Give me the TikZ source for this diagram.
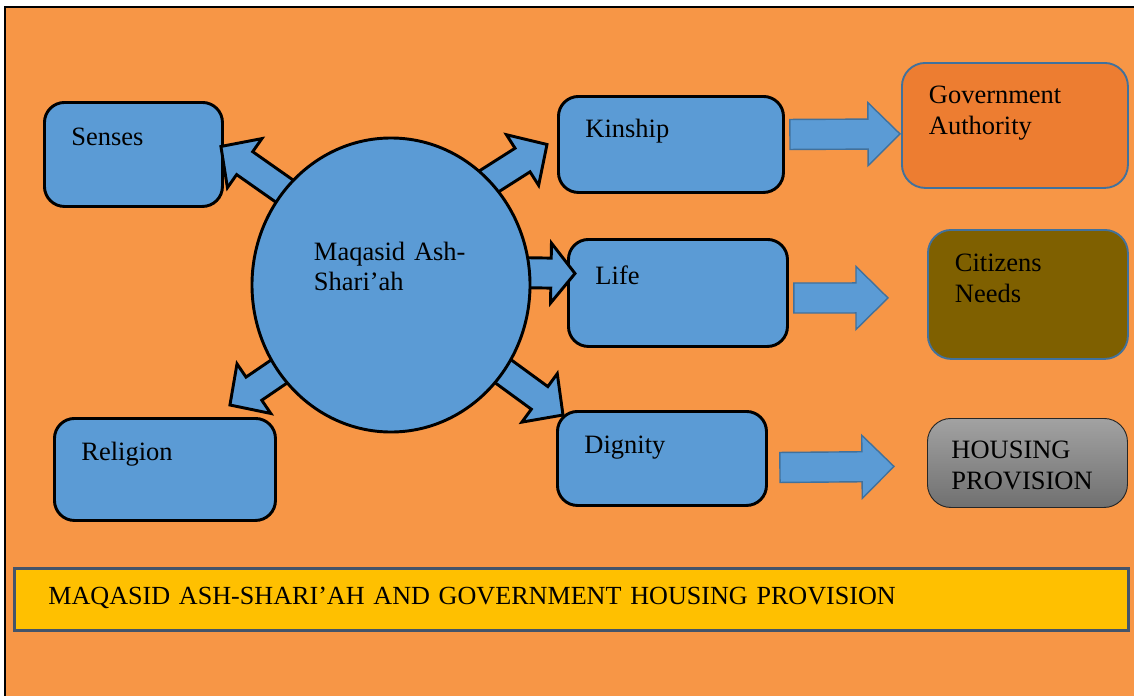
\documentclass[tikz,border=0pt]{standalone}
\usepackage{fontspec}
\setmainfont{Liberation Serif}
\usetikzlibrary{calc,shapes.geometric}

\definecolor{framebg}{HTML}{F79646}
\definecolor{boxblue}{HTML}{5B9BD5}
\definecolor{edgeblue}{HTML}{41719C}
\definecolor{govorange}{HTML}{ED7D31}
\definecolor{needsbrown}{HTML}{7F6000}
\definecolor{bannergold}{HTML}{FFC000}
\definecolor{bannerline}{HTML}{44546A}
\definecolor{greytop}{HTML}{A2A2A2}
\definecolor{greybottom}{HTML}{707070}

% block arrow: style, tail, tip, shaft half width, head half width, head length
\newcommand{\fatarrow}[6]{%
    \coordinate (fa-base) at ($(#3)!#6!(#2)$);
    \draw[#1] ($(#2)!#4!90:(#3)$) -- ($(fa-base)!#4!-90:(#2)$)
        -- ($(fa-base)!#5!-90:(#2)$) -- (#3)
        -- ($(fa-base)!#5!90:(#2)$) -- ($(fa-base)!#4!90:(#2)$)
        -- ($(#2)!#4!-90:(#3)$) -- cycle;
}

\tikzset{
    every node/.style={font=\fontsize{22.6pt}{26.4pt}\selectfont},
    goal/.style={draw=black, line width=2.5pt, fill=boxblue, rounded corners=0.6cm,
        anchor=north west, align=left, inner xsep=0.81cm, inner ysep=0pt},
    outcome/.style={draw=edgeblue, line width=1.6pt, rounded corners=0.7cm,
        anchor=north west, align=left, inner xsep=0.81cm, inner ysep=0pt},
    hub/.style={ellipse, draw=black, line width=2.5pt, fill=boxblue,
        minimum width=8.34cm, minimum height=8.82cm, inner sep=0pt,
        text width=4.62cm, align=left, text height=0.6cm, text depth=2.1cm},
    banner/.style={draw=bannerline, line width=2.3pt, fill=bannergold, anchor=north west,
        font=\fontsize{22.3pt}{26.4pt}\selectfont,
        align=left, text width=31.38cm, inner xsep=1.02cm, inner ysep=0pt,
        text height=1.08cm, text depth=0.78cm},
    fatout/.style={draw=black, line width=2.5pt, fill=boxblue, line join=miter},
    fatlink/.style={draw=edgeblue, line width=1.2pt, fill=boxblue, line join=miter}
}

\begin{document}
\begin{tikzpicture}[x=0.03cm, y=-0.03cm]
    \useasboundingbox (0,0) rectangle (1134,696);
    \clip (0,0) rectangle (1134,696);
    \fill[white] (0,0) rectangle (1134,696);
    \draw[fill=framebg, line width=1.5pt] (5,7) rectangle (1160,720);

    \node[goal, text width=3.72cm, text height=1.29cm, text depth=1.83cm] (senses) at (43,101) {Senses};
    \node[goal, text width=5.13cm, text height=1.23cm, text depth=1.65cm] (kinship) at (557,95) {Kinship};
    \node[goal, text width=4.95cm, text height=1.35cm, text depth=1.86cm] (life) at (567,238) {Life};
    \node[goal, text width=5.01cm, text height=1.26cm, text depth=1.80cm] (religion) at (53,417) {Religion};
    \node[goal, text width=4.65cm, text height=1.26cm, text depth=1.56cm] (dignity) at (556,410) {Dignity};

    \node[outcome, fill=govorange, text width=5.16cm, text height=1.23cm, text depth=2.52cm] (gov) at (901,62) {Government\\Authority};
    \node[outcome, fill=needsbrown, text width=4.38cm, text height=1.26cm, text depth=2.61cm] (needs) at (927,229) {Citizens\\Needs};
    \node[outcome, draw=black!85, line width=0.8pt, top color=greytop, bottom color=greybottom,
        inner xsep=0.72cm, text width=4.56cm, text height=1.20cm, text depth=1.47cm] (housing) at (927,418) {HOUSING\\PROVISION};

    \coordinate (hubc) at (391,285);
    \coordinate (sensesTail) at ($(hubc)+(-91,-83)$);
    \coordinate (sensesTip) at ($(senses.east)+(-3,-8)$);
    \coordinate (kinshipTail) at ($(hubc)+(64,-82)$);
    \coordinate (kinshipTip) at ($(kinship.west)+(-10,0)$);
    \coordinate (lifeTail) at ($(hubc)+(89,-13)$);
    \coordinate (lifeTip) at ($(life.west)+(8,-19.5)$);
    \coordinate (religionTail) at ($(hubc)+(-73,60)$);
    \coordinate (religionTip) at ($(religion.north east)+(-47,-12)$);
    \coordinate (dignityTail) at ($(hubc)+(83,65)$);
    \coordinate (dignityTip) at ($(dignity.north west)+(7,5)$);

    \fatarrow{fatout}{sensesTail}{sensesTip}{0.42cm}{0.9cm}{0.87cm}
    \fatarrow{fatout}{kinshipTail}{kinshipTip}{0.42cm}{0.9cm}{0.87cm}
    \fatarrow{fatout}{lifeTail}{lifeTip}{0.45cm}{0.9cm}{0.72cm}
    \fatarrow{fatout}{religionTail}{religionTip}{0.42cm}{0.9cm}{0.87cm}
    \fatarrow{fatout}{dignityTail}{dignityTip}{0.42cm}{0.9cm}{0.87cm}

    \node[hub] (maq) at (hubc) {Maqasid Ash-\\Shari’ah};

    \coordinate (govTail) at ($(kinship.east)+(5,-10)$);
    \coordinate (govTip) at ($(gov.west)+(-1,8.5)$);
    \coordinate (needsTail) at ($(life.east)+(5,5)$);
    \coordinate (needsTip) at ($(needs.west)+(-39,3.5)$);
    \coordinate (housingTail) at ($(dignity.east)+(12,9)$);
    \coordinate (housingTip) at ($(housing.west)+(-33,3.5)$);

    \fatarrow{fatlink}{govTail}{govTip}{0.45cm}{0.945cm}{0.96cm}
    \fatarrow{fatlink}{needsTail}{needsTip}{0.45cm}{0.945cm}{0.96cm}
    \fatarrow{fatlink}{housingTail}{housingTip}{0.45cm}{0.945cm}{0.96cm}

    \node[banner] (title) at (13,567) {MAQASID ASH-SHARI’AH AND GOVERNMENT HOUSING PROVISION};
\end{tikzpicture}
\end{document}
